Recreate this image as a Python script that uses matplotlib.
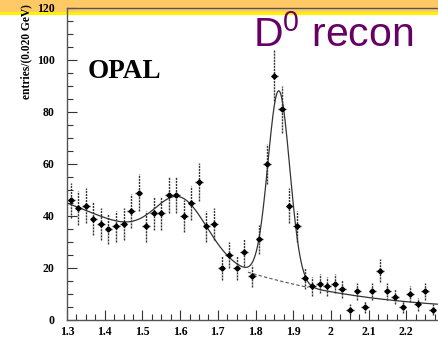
import numpy as np
import matplotlib
matplotlib.use("Agg")
from matplotlib import pyplot as plt
from matplotlib.patches import Rectangle
from matplotlib.ticker import MultipleLocator

plt.rcParams['mathtext.fontset'] = 'custom'
plt.rcParams['mathtext.rm'] = 'Liberation Sans'

# bin centres (0.020 GeV bins) and entries
mass = [1.31, 1.33, 1.35, 1.37, 1.39, 1.41, 1.43, 1.45, 1.47, 1.49,
        1.51, 1.53, 1.55, 1.57, 1.59, 1.61, 1.63, 1.65, 1.67, 1.69,
        1.71, 1.73, 1.75, 1.77, 1.79, 1.81, 1.83, 1.85, 1.87, 1.89,
        1.91, 1.93, 1.95, 1.97, 1.99, 2.01, 2.03, 2.05, 2.07, 2.09,
        2.11, 2.13, 2.15, 2.17, 2.19, 2.21, 2.23, 2.25, 2.27]
entries = [46, 43, 44, 39, 37, 35, 36, 37, 42, 49,
           36, 41, 41, 48, 48, 40, 45, 53, 36, 37,
           20, 25, 20, 26, 17, 31, 60, 94, 81, 44,
           36, 16, 13, 14, 13, 14, 12, 4, 11, 5,
           11, 19, 11, 9, 5, 10, 6, 11, 4]
xtick_labels = ['1.3', '1.4', '1.5', '1.6', '1.7', '1.8', '1.9', '2', '2.1', '2.2']

# fit: smooth background + satellite bump + D0 peak
bg_const, bg_amp, bg_lin, bg_quad = 4.0, 41.0, 1.37, 1.69
sat_amp, sat_mean, sat_sigma = 20.0, 1.603, 0.068
d0_amp, d0_mean, d0_sigma = 73.0, 1.862, 0.029

def background(x):
    u = x - 1.3
    return bg_const + bg_amp * np.exp(-bg_lin * u - bg_quad * u**2)

def fit(x):
    return (background(x)
            + sat_amp * np.exp(-0.5 * ((x - sat_mean) / sat_sigma)**2)
            + d0_amp * np.exp(-0.5 * ((x - d0_mean) / d0_sigma)**2))

mass = np.array(mass)
entries = np.array(entries, dtype=float)
err = np.sqrt(entries)

fig = plt.figure(figsize=(4.39, 3.38), dpi=100)
fig.patch.set_facecolor('white')

# slide header band, behind the plot
fig.patches.append(Rectangle((0, 1 - 12/338), 1, 12/338, transform=fig.transFigure,
                             facecolor='#ffc966', edgecolor='none', zorder=-2))
fig.patches.append(Rectangle((0, 1 - 15/338), 1, 3/338, transform=fig.transFigure,
                             facecolor='#fff200', edgecolor='none', zorder=-2))

ax = fig.add_axes([67/439, 18/338, 377/439, 312/338])
ax.set_facecolor('none')

xs = np.linspace(1.3, 2.3, 600)
ax.plot(xs, fit(xs), color='#333333', lw=0.9)
xb = np.linspace(1.78, 1.94, 50)
ax.plot(xb, background(xb), color='#555555', lw=0.8, ls=(0, (3, 2)))

eb = ax.errorbar(mass, entries, yerr=err, xerr=0.01, fmt='D', ms=2.6,
                 color='black', ecolor='#333333', elinewidth=1.0, capsize=0)
eb[2][1].set_linestyle((0, (1.5, 0.7)))

ax.set_xlim(1.3, 2.3)
ax.set_ylim(0, 120)
ax.xaxis.set_minor_locator(MultipleLocator(0.025))
ax.yaxis.set_major_locator(MultipleLocator(20))
ax.yaxis.set_minor_locator(MultipleLocator(5))
ax.set_xticks(np.arange(10) * 0.1 + 1.3)
ax.set_xticklabels(xtick_labels)
ax.tick_params(which='both', direction='in', top=False, right=False,
               labelsize=8.5, color='#333333')
ax.tick_params(which='major', length=7, width=0.8)
ax.tick_params(which='minor', length=4, width=0.8)
ax.tick_params(axis='x', pad=4)
ax.tick_params(axis='y', pad=9)
for lab in ax.get_xticklabels() + ax.get_yticklabels():
    lab.set_family('Liberation Serif')
    lab.set_weight('bold')
for s in ax.spines.values():
    s.set_color('#555555')
    s.set_linewidth(1.0)

fig.text(26/439, 1 - 4/338, 'entries/(0.020 GeV)', rotation=90, ha='center', va='top',
         family='Liberation Serif', weight='bold', fontsize=8.3)
fig.text(88/439, 1 - 78/338, 'OPAL', family='Liberation Serif', weight='bold',
         fontsize=19.5, ha='left', va='baseline')
fig.text(253/439, 1 - 47/338, r'D$^{\mathrm{0}}$ recon', family='Liberation Sans',
         color='#660066', fontsize=29.5, ha='left', va='baseline')

fig.savefig('out.png', dpi=100)
